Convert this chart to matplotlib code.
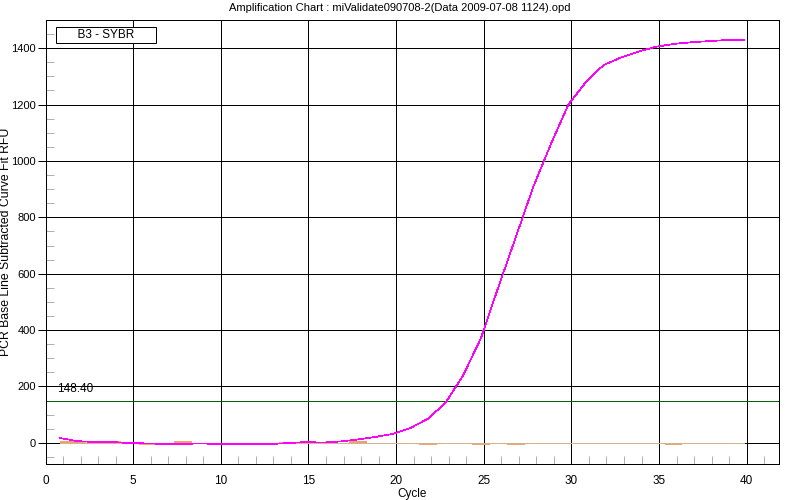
import numpy as np
import matplotlib
matplotlib.use("Agg")
import matplotlib.pyplot as plt
from matplotlib.ticker import MultipleLocator

plt.rcParams['font.family'] = ['Liberation Sans', 'DejaVu Sans']
plt.rcParams['font.size'] = 8

# data
cycles = np.arange(1, 41)
b3_rfu = [17, 6, 3, 3, -1, -2, -4, -4, -2, -4,
          -4, -4, -4, -1, 3, 1, 5, 12, 21, 32,
          53, 86, 143, 240, 370, 552, 730, 909, 1060, 1200,
          1280, 1340, 1367, 1388, 1405, 1415, 1421, 1425, 1429, 1430]
# second well, only visible where it leaves the baseline by a pixel
other_cycles = [1, 2, 4, 6, 8, 14, 18, 22, 25, 27, 36]
other_rfu = [4, 2, 2, -3, 3, -2, 2, -3, -3, -3, -3]
threshold = 148.40
legend_label = "B3 - SYBR"
title = "Amplification Chart : miValidate090708-2(Data 2009-07-08 1124).opd"

X_SHIFT = -0.17  # the instrument draws each cycle a little left of the tick

fig = plt.figure(figsize=(8, 5), dpi=100)
ax = fig.add_axes([0.0569, 0.072, 0.917, 0.888])

px = 0.72  # one pixel in points
thin = 0.5
x = cycles + X_SHIFT

ax.set_xlim(0, 41.85)
ax.set_ylim(-75, 1500)

# grid
for gx in range(5, 41, 5):
    ax.axvline(gx, color='black', lw=px, antialiased=False, zorder=1)
for gy in range(0, 1401, 200):
    ax.axhline(gy, color='black', lw=px, antialiased=False, zorder=1)

# threshold
ax.axhline(threshold, color='#006400', lw=px, antialiased=False, zorder=2)
ax.text(0.65, threshold + 20, f"{threshold:.2f}", fontsize=8.5, va='bottom', ha='left')

# other well as short flat pieces
ox = np.array(other_cycles) + X_SHIFT
ax.hlines(other_rfu, np.maximum(ox - 0.5, x[0]), ox + 0.5, color='#EBA56A',
          lw=2 * px, antialiased=False, zorder=3)

# baseline
ax.plot([x[0], x[-1]], [0, 0], color='#D2B48C', lw=px, antialiased=False, zorder=4)

# curve
ax.plot(x, b3_rfu, color='#FF00FF', lw=thin, antialiased=False, zorder=5)

# legend box
ax.text(0.0825, 0.966, "      " + legend_label + "      ", transform=ax.transAxes,
        ha='center', va='center', fontsize=8.5,
        bbox=dict(boxstyle='square,pad=0.2', fc='white', ec='black', lw=px),
        zorder=6)

ax.xaxis.set_major_locator(MultipleLocator(5))
ax.xaxis.set_minor_locator(MultipleLocator(1))
ax.yaxis.set_major_locator(MultipleLocator(200))
ax.yaxis.set_minor_locator(MultipleLocator(50))
ax.tick_params(axis='x', which='major', length=0, pad=8, labelsize=8.5)
ax.tick_params(axis='x', which='minor', direction='in', length=6, width=px, color='#B0B0B0')
ax.tick_params(axis='y', which='major', direction='out', length=6, width=px, pad=1, labelsize=8)
ax.tick_params(axis='y', which='minor', direction='in', length=6, width=px, color='#B0B0B0')

for s in ax.spines.values():
    s.set_linewidth(px)
    s.set_antialiased(False)

ax.set_xlabel("Cycle", fontsize=8.5, labelpad=1)
ax.set_ylabel("PCR Base Line Subtracted Curve Fit RFU", fontsize=8.8)
ax.yaxis.set_label_coords(-0.046, 0.5)
fig.text(0.5, 0.984, title, ha='center', va='center', fontsize=8)

fig.savefig("out.png", dpi=100)
